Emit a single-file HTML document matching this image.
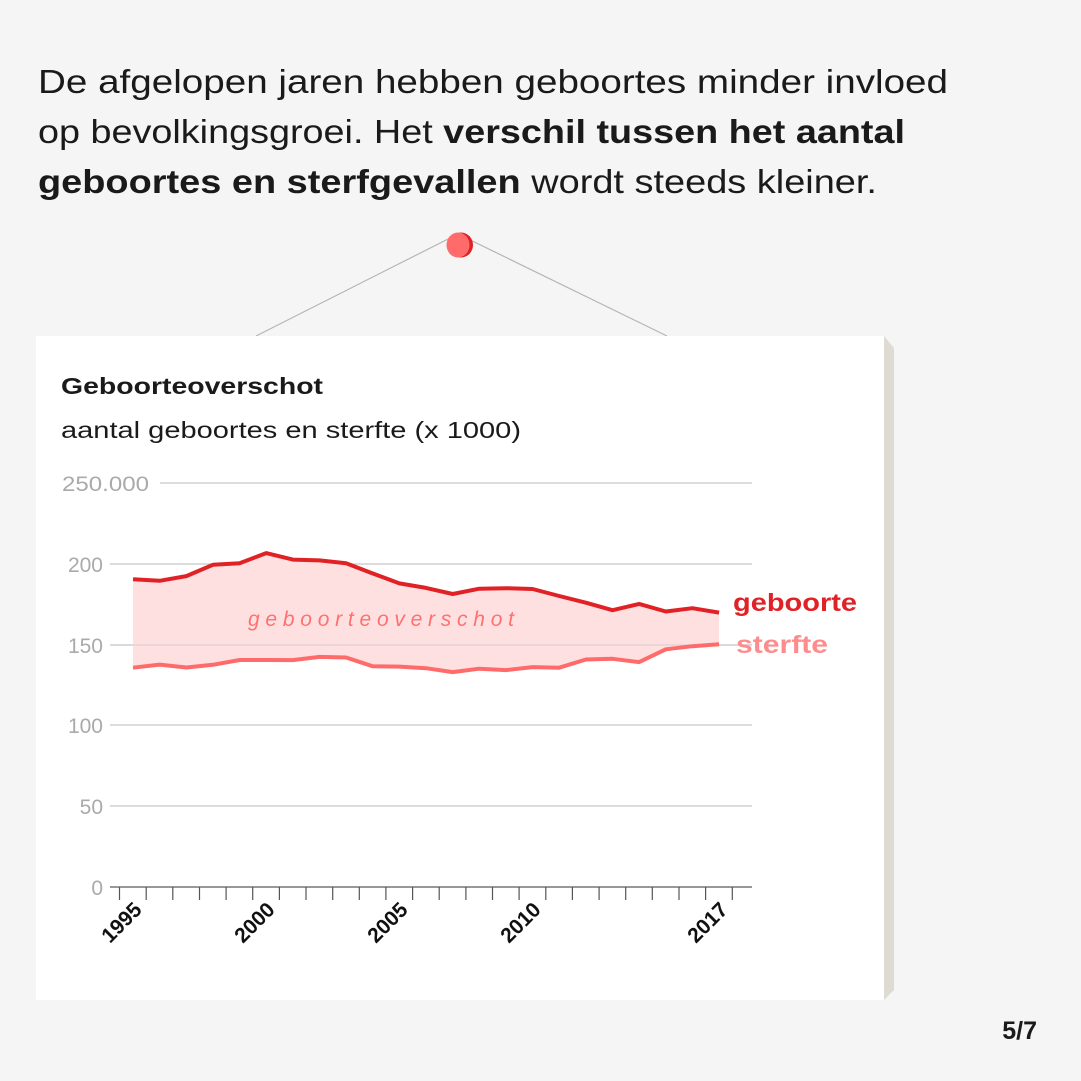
<!DOCTYPE html>
<html><head><meta charset="utf-8"><style>
html,body{margin:0;padding:0;background:#f5f5f5;}
svg{display:block;font-family:"Liberation Sans",sans-serif;}
</style></head><body>
<svg width="1081" height="1081" viewBox="0 0 1081 1081" xmlns="http://www.w3.org/2000/svg">
<rect width="1081" height="1081" fill="#f5f5f5"/>
<g fill="#1a1a1a" font-size="33">
<text x="38" y="93" textLength="910" lengthAdjust="spacingAndGlyphs">De afgelopen jaren hebben geboortes minder invloed</text>
<text x="38" y="143" textLength="867" lengthAdjust="spacingAndGlyphs">op bevolkingsgroei. Het <tspan font-weight="bold">verschil tussen het aantal</tspan></text>
<text x="38" y="193" textLength="839" lengthAdjust="spacingAndGlyphs"><tspan font-weight="bold">geboortes en sterfgevallen</tspan> wordt steeds kleiner.</text>
</g>
<line x1="256" y1="336" x2="458" y2="234" stroke="#b5b5b5" stroke-width="1.2"/>
<line x1="458" y1="234" x2="667" y2="336" stroke="#b5b5b5" stroke-width="1.2"/>
<ellipse cx="461" cy="245" rx="12" ry="12.5" fill="#e02226"/>
<ellipse cx="458" cy="245" rx="11.5" ry="12.5" fill="#ff6b6b"/>
<polygon points="884,336 894,348 894,990 884,1000" fill="#dedcd2"/>
<rect x="36" y="336" width="848" height="664" fill="#fff"/>
<text x="61" y="394" font-size="23" font-weight="bold" fill="#1a1a1a" textLength="262" lengthAdjust="spacingAndGlyphs">Geboorteoverschot</text>
<text x="61" y="438" font-size="23" fill="#1a1a1a" textLength="460" lengthAdjust="spacingAndGlyphs">aantal geboortes en sterfte (x 1000)</text>
<g stroke="#c8c8c8" stroke-width="1.2">
<line x1="160" y1="483" x2="752" y2="483"/>
<line x1="110" y1="564" x2="752" y2="564"/>
<line x1="110" y1="645" x2="752" y2="645"/>
<line x1="110" y1="725" x2="752" y2="725"/>
<line x1="110" y1="806" x2="752" y2="806"/>
</g>
<g fill="#aaa" font-size="21" text-anchor="end">
<text x="149" y="491" textLength="87" lengthAdjust="spacingAndGlyphs">250.000</text>
<text x="103" y="572">200</text>
<text x="103" y="653">150</text>
<text x="103" y="733">100</text>
<text x="103" y="814">50</text>
<text x="103" y="895">0</text>
</g>
<polygon fill="#ffe0e0" points="133,579.2 159.6,580.8 186.3,576.1 212.9,564.8 239.6,563.2 266.2,553.1 292.8,559.6 319.5,560.4 346.1,563.3 372.8,573.5 399.4,583.4 426,587.9 452.7,594 479.3,588.7 506,588.2 532.6,589 559.2,596 585.9,602.7 612.5,610.2 639.2,603.9 665.8,611.5 692.4,608.2 719.1,612.6 719.1,644.3 692.4,646.2 665.8,649.3 639.2,662.1 612.5,658.8 585.9,659.5 559.2,667.7 532.6,667.1 506,670.1 479.3,668.7 452.7,672.1 426,668.2 399.4,666.6 372.8,666.3 346.1,657.5 319.5,656.9 292.8,660.1 266.2,660 239.6,660 212.9,664.8 186.3,667.5 159.6,664.6 133,667.7"/>
<line x1="110" y1="645" x2="752" y2="645" stroke="#c8c8c8" stroke-width="1.2" opacity="0.6"/>
<polyline fill="none" stroke="#e02226" stroke-width="4" stroke-linejoin="round" points="133,579.2 159.6,580.8 186.3,576.1 212.9,564.8 239.6,563.2 266.2,553.1 292.8,559.6 319.5,560.4 346.1,563.3 372.8,573.5 399.4,583.4 426,587.9 452.7,594 479.3,588.7 506,588.2 532.6,589 559.2,596 585.9,602.7 612.5,610.2 639.2,603.9 665.8,611.5 692.4,608.2 719.1,612.6"/>
<polyline fill="none" stroke="#ff6b6b" stroke-width="4" stroke-linejoin="round" points="133,667.7 159.6,664.6 186.3,667.5 212.9,664.8 239.6,660 266.2,660 292.8,660.1 319.5,656.9 346.1,657.5 372.8,666.3 399.4,666.6 426,668.2 452.7,672.1 479.3,668.7 506,670.1 532.6,667.1 559.2,667.7 585.9,659.5 612.5,658.8 639.2,662.1 665.8,649.3 692.4,646.2 719.1,644.3"/>
<text x="248" y="626" font-size="21" font-style="italic" fill="#ff7070" textLength="266" lengthAdjust="spacing">geboorteoverschot</text>
<text x="733" y="611" font-size="25" font-weight="bold" fill="#e02226" textLength="124" lengthAdjust="spacingAndGlyphs">geboorte</text>
<text x="736" y="653" font-size="25" font-weight="bold" fill="#ff8c8c" textLength="92" lengthAdjust="spacingAndGlyphs">sterfte</text>
<line x1="110" y1="887" x2="752" y2="887" stroke="#777" stroke-width="1.5"/>
<g stroke="#555" stroke-width="1.2">
<line x1="119.5" y1="887" x2="119.5" y2="900"/><line x1="146.2" y1="887" x2="146.2" y2="900"/><line x1="172.8" y1="887" x2="172.8" y2="900"/><line x1="199.5" y1="887" x2="199.5" y2="900"/><line x1="226.1" y1="887" x2="226.1" y2="900"/><line x1="252.7" y1="887" x2="252.7" y2="900"/><line x1="279.4" y1="887" x2="279.4" y2="900"/><line x1="306" y1="887" x2="306" y2="900"/><line x1="332.7" y1="887" x2="332.7" y2="900"/><line x1="359.3" y1="887" x2="359.3" y2="900"/><line x1="385.9" y1="887" x2="385.9" y2="900"/><line x1="412.6" y1="887" x2="412.6" y2="900"/><line x1="439.2" y1="887" x2="439.2" y2="900"/><line x1="465.9" y1="887" x2="465.9" y2="900"/><line x1="492.5" y1="887" x2="492.5" y2="900"/><line x1="519.1" y1="887" x2="519.1" y2="900"/><line x1="545.8" y1="887" x2="545.8" y2="900"/><line x1="572.4" y1="887" x2="572.4" y2="900"/><line x1="599.1" y1="887" x2="599.1" y2="900"/><line x1="625.7" y1="887" x2="625.7" y2="900"/><line x1="652.3" y1="887" x2="652.3" y2="900"/><line x1="679" y1="887" x2="679" y2="900"/><line x1="705.6" y1="887" x2="705.6" y2="900"/><line x1="732.3" y1="887" x2="732.3" y2="900"/>
</g>
<g font-size="21" font-weight="bold" fill="#111" text-anchor="end">
<text transform="translate(143,911) rotate(-45)">1995</text>
<text transform="translate(276,911) rotate(-45)">2000</text>
<text transform="translate(409,911) rotate(-45)">2005</text>
<text transform="translate(542,911) rotate(-45)">2010</text>
<text transform="translate(729,911) rotate(-45)">2017</text>
</g>
<text x="1037" y="1039" font-size="25" font-weight="bold" fill="#1a1a1a" text-anchor="end">5/7</text>
</svg>
</body></html>
